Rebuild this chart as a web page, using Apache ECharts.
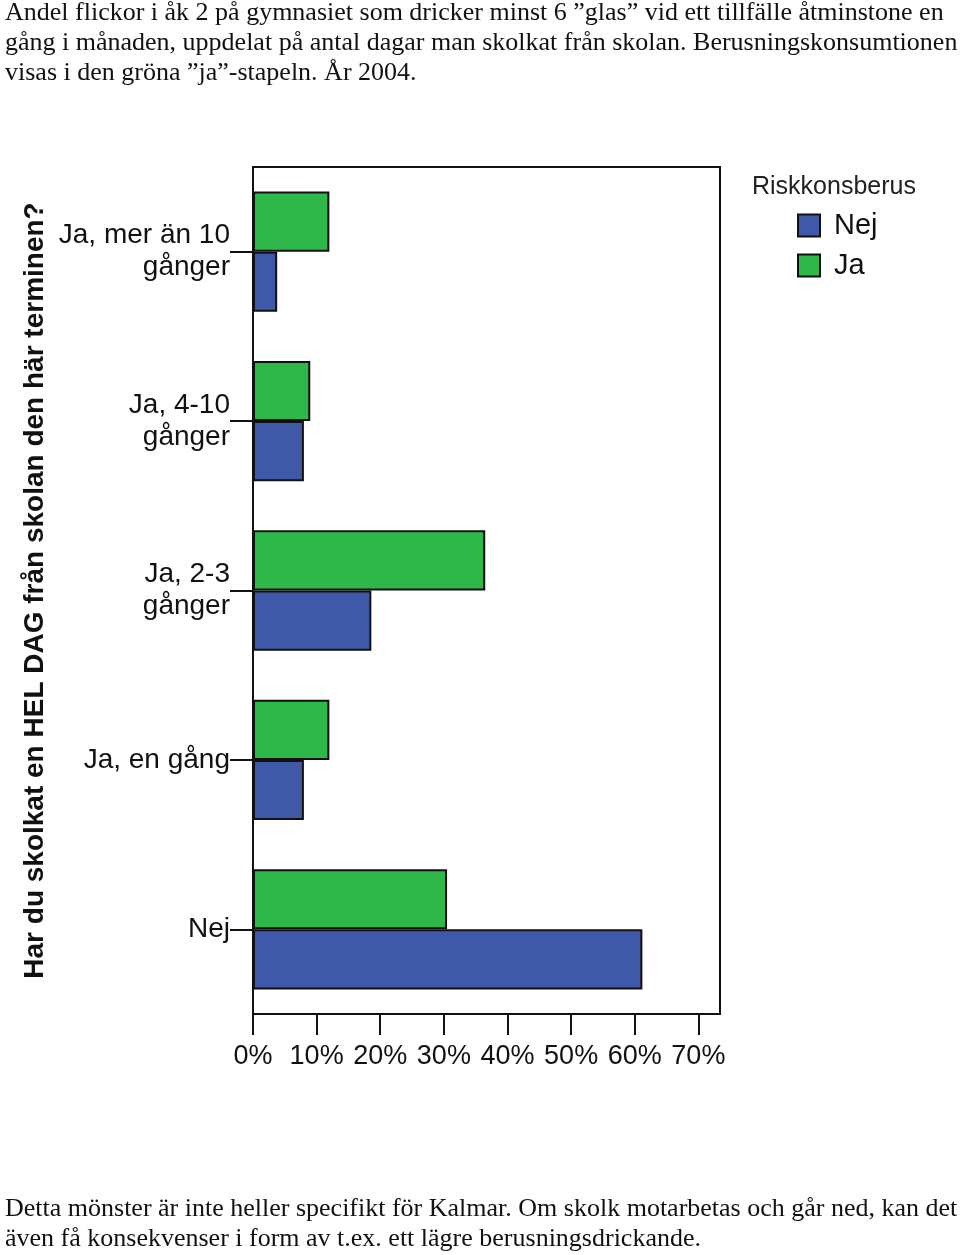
<!DOCTYPE html>
<html><head><meta charset="utf-8">
<script src="https://cdn.jsdelivr.net/npm/echarts@6/dist/echarts.min.js"></script>
<style>html,body{margin:0;padding:0;background:#fff}#c{width:960px;height:1255px}</style>
</head><body><div id="c"></div>
<script>
const categories = ['Nej', 'Ja, en gång', 'Ja, 2-3\ngånger', 'Ja, 4-10\ngånger', 'Ja, mer än 10\ngånger'];
const nejValues = [61.2, 8.0, 18.6, 8.0, 3.8];
const jaValues = [30.5, 12.0, 36.5, 9.0, 12.0];
const tickValues = [0, 10, 20, 30, 40, 50, 60, 70];
const seriesNames = ['Nej', 'Ja'];

const chart = echarts.init(document.getElementById('c'), null, {renderer: 'canvas'});
const serif = '"Liberation Serif", "Times New Roman", serif';
const sans = '"Liberation Sans", Arial, sans-serif';
chart.setOption({
  backgroundColor: '#fff',
  animation: false,
  title: [
    {text: 'Andel flickor i åk 2 på gymnasiet som dricker minst 6 ”glas” vid ett tillfälle åtminstone en\ngång i månaden, uppdelat på antal dagar man skolkat från skolan. Berusningskonsumtionen\nvisas i den gröna ”ja”-stapeln. År 2004.',
     left: 5, top: -2, padding: 0,
     textStyle: {fontFamily: serif, fontSize: 26, fontWeight: 'normal', color: '#111', lineHeight: 30}},
    {text: 'Riskkonsberus', left: 752, top: 175, padding: 0,
     textStyle: {fontFamily: sans, fontSize: 25, fontWeight: 'normal', color: '#222'}},
    {text: 'Detta mönster är inte heller specifikt för Kalmar. Om skolk motarbetas och går ned, kan det\näven få konsekvenser i form av t.ex. ett lägre berusningsdrickande.',
     left: 5, top: 1194, padding: 0,
     textStyle: {fontFamily: serif, fontSize: 26, fontWeight: 'normal', color: '#111', lineHeight: 30}}
  ],
  legend: {
    data: seriesNames, orient: 'vertical', left: 797, top: 211, padding: 0,
    itemWidth: 22, itemHeight: 22, itemGap: 11, icon: 'rect',
    textStyle: {fontFamily: sans, fontSize: 29, color: '#111', lineHeight: 22, padding: [0,0,0,9]}
  },
  grid: {left: 253, right: 240, top: 167, bottom: 241, show: true, borderColor: '#111', borderWidth: 2, containLabel: false},
  xAxis: {
    type: 'value', min: 0, max: 73.4, interval: 10,
    axisLine: {show: true, lineStyle: {color: '#111', width: 2}},
    axisTick: {show: true, length: 21, customValues: tickValues, lineStyle: {color: '#111', width: 2}},
    axisLabel: {customValues: tickValues, formatter: v => v + '%', margin: 29, fontFamily: sans, fontSize: 27, color: '#111'},
    splitLine: {show: false}
  },
  yAxis: {
    type: 'category', data: categories,
    name: 'Har du skolkat en HEL DAG från skolan den här terminen?',
    nameLocation: 'middle', nameRotate: 90, nameGap: 204,
    nameTextStyle: {fontFamily: sans, fontSize: 28, fontWeight: 'bold', color: '#111'},
    axisLine: {show: true, lineStyle: {color: '#111', width: 2}},
    axisTick: {show: true, alignWithLabel: true, length: 23, lineStyle: {color: '#111', width: 2}},
    axisLabel: {margin: 23, fontFamily: sans, fontSize: 28, color: '#111', lineHeight: 32, align: 'right'},
    splitLine: {show: false}
  },
  series: [
    {name: 'Ja', type: 'bar', data: jaValues, barCategoryGap: '29%', barGap: '0%',
     itemStyle: {color: '#2FB84A', borderColor: '#111', borderWidth: 2}},
    {name: 'Nej', type: 'bar', data: nejValues, barCategoryGap: '29%', barGap: '0%',
     itemStyle: {color: '#3F58A8', borderColor: '#111', borderWidth: 2}}
  ]
});
</script></body></html>
